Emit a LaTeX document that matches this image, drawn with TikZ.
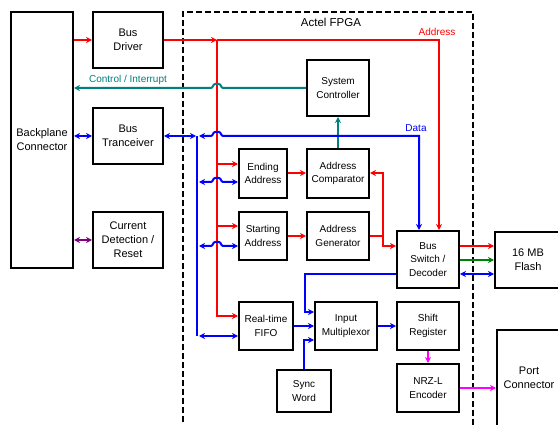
\documentclass[tikz,border=0pt]{standalone}
\usepackage{fontspec}
\setmainfont{Liberation Sans}
\usetikzlibrary{arrows.meta}
\definecolor{cteal}{RGB}{0,128,128}
\definecolor{cgreen}{RGB}{0,128,0}
\definecolor{cpurple}{RGB}{128,0,128}
\definecolor{cmag}{RGB}{255,0,255}
\definecolor{cred}{RGB}{255,0,0}
\definecolor{cblue}{RGB}{0,0,255}
\begin{document}
\begin{tikzpicture}[x=1pt,y=-1pt,
  box/.style={draw=black, line width=2pt, align=center, inner sep=0pt, font=\fontsize{10}{13.5}\selectfont},
  bigbox/.style={box, font=\fontsize{11}{14}\selectfont},
  wire/.style={line width=2pt},
  conn/.style={wire, -{Stealth[length=6pt,width=6pt]}},
  bi/.style={wire, {Stealth[length=6pt,width=6pt]}-{Stealth[length=6pt,width=6pt]}},
  lbl/.style={font=\fontsize{10}{12}\selectfont, inner sep=0pt}]
\useasboundingbox (0,0) rectangle (558,425);
\fill[white] (0,0) rectangle (558,425);
\clip (0,0) rectangle (558,425);

% FPGA frame
\node[draw, line width=2pt, dash pattern=on 6pt off 3pt, minimum width=290pt, minimum height=420pt, inner sep=0pt] (fpga) at (328,222) {};
\node[font=\fontsize{11.5}{14}\selectfont, inner sep=0pt] (fpgaL) at (331,22) {Actel FPGA};

% outer boxes
\node[bigbox, minimum width=62pt, minimum height=256pt] (bp) at (42,140) {Backplane\\Connector};
\node[bigbox, minimum width=70pt, minimum height=56pt] (drv) at (128,40) {Bus\\Driver};
\node[bigbox, minimum width=70pt, minimum height=56pt] (trx) at (128,136) {Bus\\Tranceiver};
\node[bigbox, minimum width=70pt, minimum height=56pt] (cur) at (128,240) {Current\\Detection /\\Reset};
\node[bigbox, minimum width=66pt, minimum height=56pt] (flash) at (528,260) {16 MB\\Flash};
\node[bigbox, minimum width=64pt, minimum height=96pt] (port) at (529,378) {Port\\Connector};

% inner boxes
\node[box, minimum width=62pt, minimum height=56pt] (sys) at (338,88) {System\\Controller};
\node[box, minimum width=48pt, minimum height=49pt] (end) at (263,173.5) {Ending\\Address};
\node[box, minimum width=62pt, minimum height=49pt] (cmp) at (338,173.5) {Address\\Comparator};
\node[box, minimum width=48pt, minimum height=48pt] (start) at (263,236) {Starting\\Address};
\node[box, minimum width=62pt, minimum height=48pt] (gen) at (338,236) {Address\\Generator};
\node[box, minimum width=62pt, minimum height=57pt] (sw) at (428,259.5) {Bus\\Switch /\\Decoder};
\node[box, minimum width=54pt, minimum height=48pt] (fifo) at (266,326) {Real-time\\FIFO};
\node[box, minimum width=62pt, minimum height=48pt] (mux) at (346,326) {Input\\Multiplexor};
\node[box, minimum width=54pt, minimum height=42pt] (sync) at (304,391) {Sync\\Word};
\node[box, minimum width=62pt, minimum height=48pt] (shift) at (428,326) {Shift\\Register};
\node[box, minimum width=62pt, minimum height=48pt] (nrz) at (428,388) {NRZ-L\\Encoder};

% helper coordinates
\coordinate (aJ) at (217,40);
\coordinate (aR) at (439,40);
\coordinate (rE) at (217,164);
\coordinate (rS) at (217,226);
\coordinate (rF) at (217,316);
\coordinate (bT) at (197,136);
\coordinate (bE) at (197,182);
\coordinate (bS) at (197,246);
\coordinate (bB) at (197,336);
\coordinate (dR) at (419,136);
\coordinate (rG) at (383,236);
\coordinate (yC) at (0,173);
\coordinate (yR) at (0,246);
\coordinate (yG) at (0,260);
\coordinate (yB) at (0,274);
\coordinate (mM) at (305,312);
\coordinate (sM) at (0,340);

% labels
\node[lbl, text=cred] (addrL) at (437,32) {Address};
\node[lbl, text=cblue] (dataL) at (416,128) {Data};
\node[lbl, text=cteal] (ctlL) at (128,80) {Control / Interrupt};

% red address paths
\draw[conn, cred] (drv.west -| bp.east) -- (drv.west);
\draw[conn, cred] (drv.east) -- (aJ);
\draw[conn, cred] (aJ) -- (aR) -- (aR |- sw.north);
\draw[conn, cred] (aJ) |- (rF -| fifo.west);
\draw[conn, cred] (rE) -- (rE -| end.west);
\draw[conn, cred] (rS) -- (rS -| start.west);
\draw[conn, cred] (end.east |- yC) -- (cmp.west |- yC);
\draw[conn, cred] (start.east) -- (start.east -| gen.west);
\draw[wire, cred] (gen.east) -- (rG);
\draw[conn, cred] (rG) |- (cmp.east |- yC);
\draw[conn, cred] (rG) |- (sw.west |- yR);
\draw[conn, cred] (sw.east |- yR) -- (flash.west |- yR);

% control / interrupt
\draw[conn, cteal] (sys.west) -- (223,88) .. controls (221,88) and (221,84) .. (219,84) -- (215,84) .. controls (213,84) and (213,88) .. (211,88) -- (sys.west -| bp.east);
\draw[conn, cteal] (cmp.north) -- (sys.south);

% blue data paths
\draw[bi, cblue] (trx.west -| bp.east) -- (trx.west);
\draw[bi, cblue] (trx.east) -- ([xshift=-1pt]bT);
\draw[wire, cblue] (bT) -- (bB);
\draw[bi, cblue] ([xshift=2pt]bT) -- (211,136) .. controls (213,136) and (213,132) .. (215,132) -- (219,132) .. controls (221,132) and (221,136) .. (223,136) -- (dR) -- (dR |- sw.north);
\draw[bi, cblue] ([xshift=2pt]bE) -- (211,182) .. controls (213,182) and (213,178) .. (215,178) -- (219,178) .. controls (221,178) and (221,182) .. (223,182) -- (bE -| end.west);
\draw[bi, cblue] ([xshift=2pt]bS) -- (211,246) .. controls (213,246) and (213,242) .. (215,242) -- (219,242) .. controls (221,242) and (221,246) .. (223,246) -- (bS -| start.west);
\draw[bi, cblue] ([xshift=2pt]bB) -- (bB -| fifo.west);
\draw[conn, cblue] (sw.west |- yB) -| (mM) -- (mM -| mux.west);
\draw[bi, cblue] (sw.east |- yB) -- (flash.west |- yB);
\draw[conn, cblue] (fifo.east) -- (mux.west);
\draw[conn, cblue] (sync.north) |- (mux.west |- sM);
\draw[conn, cblue] (mux.east) -- (shift.west);

% green, magenta, purple
\draw[conn, cgreen] (sw.east |- yG) -- (flash.west |- yG);
\draw[conn, cmag] (shift.south) -- (nrz.north);
\draw[conn, cmag] (nrz.east) -- (nrz.east -| port.west);
\draw[bi, cpurple] (cur.west -| bp.east) -- (cur.west);
\end{tikzpicture}
\end{document}
